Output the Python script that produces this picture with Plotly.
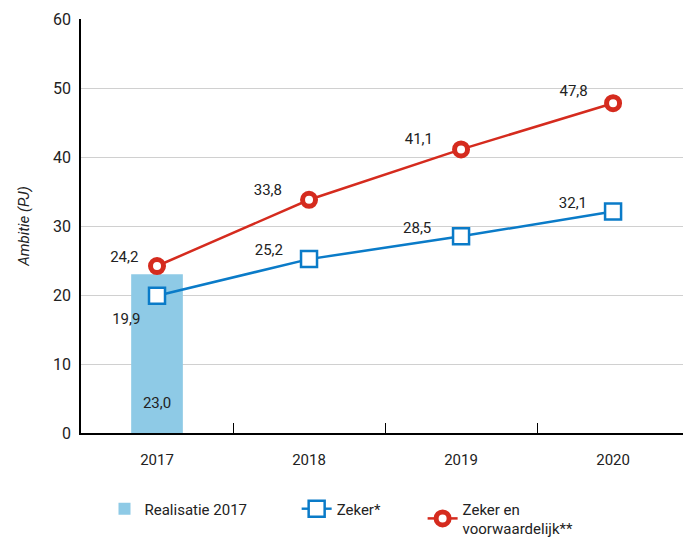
import plotly.graph_objects as go

jaren = ['2017', '2018', '2019', '2020']
realisatie = [23.0]
zeker = [19.9, 25.2, 28.5, 32.1]
zeker_voorw = [24.2, 33.8, 41.1, 47.8]

C = {'bar': '#8ecae6', 'blauw': '#0a7bc8', 'rood': '#d52b1e', 'grid': '#d0d0d0', 'tekst': '#222222'}
FONT = 'Roboto, sans-serif'
NB = '\u00a0'


def fmt(v):
    return f'{v:.1f}'.replace('.', ',')


lbl_font = dict(size=15, color=C['tekst'], family=FONT)


def labels(x, y, pos, sizes, pad):
    # onzichtbare markers: de grootte bepaalt de afstand van het label tot het punt
    return go.Scatter(
        x=x, y=y, mode='markers+text', showlegend=False, hoverinfo='skip',
        marker=dict(size=sizes, opacity=0),
        text=[fmt(v) + NB * p for v, p in zip(y, pad)],
        textposition=pos, textfont=lbl_font,
    )


fig = go.Figure()
fig.add_trace(go.Bar(
    x=jaren[:1], y=realisatie, name='Realisatie 2017' + NB * 12,
    marker_color=C['bar'], marker_line_width=0, width=0.34,
))
fig.add_trace(go.Scatter(
    x=jaren, y=zeker, name='Zeker*' + NB * 10, mode='lines+markers',
    line=dict(color=C['blauw'], width=2.5),
    marker=dict(symbol='square', size=16, color='white', line=dict(color=C['blauw'], width=2.5)),
))
fig.add_trace(go.Scatter(
    x=jaren, y=zeker_voorw, name='Zeker en<br>voorwaardelijk**', mode='lines+markers',
    line=dict(color=C['rood'], width=2.5),
    marker=dict(symbol='circle', size=13, color='white', line=dict(color=C['rood'], width=5)),
))

fig.add_trace(labels(jaren, zeker_voorw, 'top left', [0, 0.01, 1.6, 3.2], [5, 7, 7, 6]))
fig.add_trace(labels(jaren, zeker, ['bottom left', 'top left', 'top left', 'top left'],
                     [25, 0, 0, 0], [0, 7, 8, 7]))
# label van de staaf, onderin de staaf
fig.add_trace(go.Scatter(
    x=jaren[:1], y=[0], mode='markers+text', showlegend=False, hoverinfo='skip',
    marker=dict(size=32, opacity=0), text=[fmt(v) for v in realisatie],
    textposition='top center', textfont=lbl_font,
))

fig.update_layout(
    width=683, height=540,
    margin=dict(l=81, r=0, t=19, b=107),
    paper_bgcolor='white', plot_bgcolor='white',
    font=dict(family=FONT, size=15, color=C['tekst']),
    showlegend=True,
    legend=dict(orientation='h', xref='container', yref='container',
                x=0.5, xanchor='center', y=0.04, yanchor='middle',
                font=dict(size=15), itemwidth=30, traceorder='normal'),
    # labels: onzichtbare buitenticks als afstandhouder
    xaxis=dict(type='category', range=[-0.5, 3.46], showgrid=False, automargin=False,
               showline=True, linecolor='black', linewidth=1.5,
               ticks='outside', ticklen=12, tickcolor='rgba(0,0,0,0)',
               tickfont=dict(size=15)),
    # tweede as alleen voor de binnenticks op de grenzen
    xaxis2=dict(type='category', overlaying='x', matches='x', side='bottom', anchor='y',
                showgrid=False, showline=False, showticklabels=False, automargin=False,
                ticks='inside', tickson='boundaries', ticklen=10, tickcolor='black',
                tickvals=jaren),
    yaxis=dict(range=[0, 60], dtick=10, showgrid=True, gridcolor=C['grid'], gridwidth=1,
               showline=True, linecolor='black', linewidth=1.5, zeroline=False, automargin=False,
               ticks='', ticklabelstandoff=5, tickfont=dict(size=16),
               title=dict(text='<i>Ambitie (PJ)</i>', font=dict(size=15), standoff=20)),
)
# lege trace zodat xaxis2 getekend wordt
fig.add_trace(go.Scatter(x=jaren, y=[None] * 4, xaxis='x2', showlegend=False, hoverinfo='skip'))

fig.write_html('out.html', config={'displayModeBar': False},
               post_script="document.body.style.margin='0';")
